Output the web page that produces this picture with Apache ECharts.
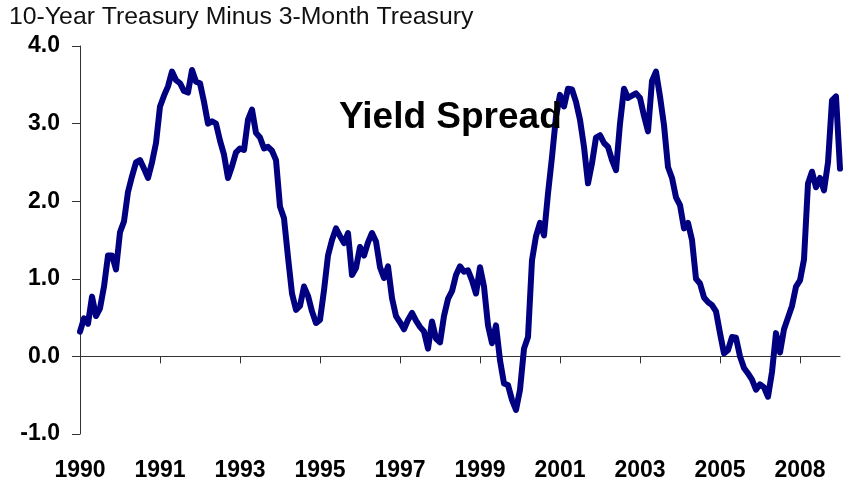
<!DOCTYPE html>
<html>
<head>
<meta charset="utf-8">
<script src="https://cdn.jsdelivr.net/npm/echarts@6/dist/echarts.min.js"></script>
<style>
  html, body { margin: 0; padding: 0; background: #ffffff; }
  #chart { width: 843px; height: 485px; }
</style>
</head>
<body>
<div id="chart"></div>
<script>
// Year labels shown under every 20th observation
const tickLabels = ['1990', '1991', '1993', '1995', '1997', '1999', '2001', '2003', '2005', '2008'];
const labelStep = 20;

// 10-year minus 3-month Treasury yield spread, percentage points
const spread = [
  0.32, 0.49, 0.42, 0.77, 0.52, 0.62, 0.90, 1.30, 1.30, 1.12,
  1.60, 1.74, 2.12, 2.32, 2.50, 2.53, 2.42, 2.30, 2.50, 2.75,
  3.22, 3.36, 3.48, 3.67, 3.56, 3.52, 3.42, 3.40, 3.69, 3.54,
  3.52, 3.28, 3.00, 3.03, 3.00, 2.78, 2.60, 2.30, 2.45, 2.63,
  2.68, 2.66, 3.05, 3.18, 2.88, 2.82, 2.68, 2.70, 2.65, 2.53,
  1.93, 1.78, 1.28, 0.81, 0.60, 0.65, 0.90, 0.78, 0.58, 0.43,
  0.47, 0.85, 1.30, 1.50, 1.65, 1.55, 1.46, 1.59, 1.05, 1.14,
  1.41, 1.30, 1.47, 1.59, 1.48, 1.15, 1.01, 1.16, 0.75, 0.52,
  0.44, 0.35, 0.47, 0.56, 0.46, 0.38, 0.32, 0.10, 0.45, 0.23,
  0.18, 0.52, 0.74, 0.84, 1.05, 1.16, 1.09, 1.11, 0.98, 0.81,
  1.15, 0.90, 0.40, 0.17, 0.40, -0.05, -0.35, -0.37, -0.56, -0.69,
  -0.43, 0.10, 0.25, 1.24, 1.55, 1.72, 1.56, 2.10, 2.57, 3.09,
  3.37, 3.22, 3.45, 3.44, 3.28, 3.05, 2.70, 2.23, 2.49, 2.82,
  2.85, 2.75, 2.70, 2.53, 2.40, 3.00, 3.45, 3.33, 3.36, 3.39,
  3.33, 3.10, 2.90, 3.55, 3.67, 3.35, 2.98, 2.44, 2.30, 2.05,
  1.95, 1.65, 1.72, 1.50, 1.00, 0.94, 0.76, 0.70, 0.66, 0.58,
  0.30, 0.04, 0.08, 0.25, 0.24, 0.00, -0.15, -0.22, -0.30, -0.43,
  -0.36, -0.40, -0.52, -0.20, 0.30, 0.05, 0.35, 0.50, 0.65, 0.90,
  0.98, 1.25, 2.23, 2.38, 2.18, 2.30, 2.14, 2.50, 3.30, 3.35,
  2.42
];

const periods = spread.map((_, i) => String(i));
const yearLabel = (value, index) => tickLabels[Math.round(index / labelStep)] || '';

const labelFont = {
  fontFamily: 'Liberation Sans, Arial, sans-serif',
  fontWeight: 'bold',
  fontSize: 23,
  color: '#000000'
};

const chart = echarts.init(document.getElementById('chart'), null, { renderer: 'canvas' });

chart.setOption({
  animation: false,
  backgroundColor: '#ffffff',
  title: [
    {
      text: '10-Year Treasury Minus 3-Month Treasury',
      left: 4,
      top: 0,
      textStyle: {
        fontFamily: 'Liberation Sans, Arial, sans-serif',
        fontWeight: 'normal',
        fontSize: 24.8,
        color: '#111111'
      }
    },
    {
      text: 'Yield Spread',
      left: 334,
      top: 94,
      textStyle: {
        fontFamily: 'Liberation Sans, Arial, sans-serif',
        fontWeight: 'bold',
        fontSize: 37,
        color: '#000000'
      }
    }
  ],
  grid: { left: 80, right: 3, top: 46, bottom: 51, containLabel: false },
  xAxis: [
    {
      type: 'category',
      data: periods,
      boundaryGap: false,
      axisLine: { show: true, onZero: true, lineStyle: { color: '#333333', width: 1 } },
      axisTick: { show: true, interval: labelStep - 1, length: 7, inside: false, lineStyle: { color: '#333333' } },
      axisLabel: { show: false },
      splitLine: { show: false }
    },
    {
      type: 'category',
      data: periods,
      boundaryGap: false,
      position: 'bottom',
      axisLine: { show: false, onZero: false },
      axisTick: { show: false },
      axisLabel: Object.assign({ show: true, interval: labelStep - 1, margin: 25, formatter: yearLabel }, labelFont),
      splitLine: { show: false }
    }
  ],
  yAxis: {
    type: 'value',
    min: -1,
    max: 4,
    interval: 1,
    axisLine: { show: true, lineStyle: { color: '#333333', width: 1 } },
    axisTick: { show: true, length: 8, inside: false, lineStyle: { color: '#333333' } },
    axisLabel: Object.assign({ margin: 20, formatter: v => v.toFixed(1) }, labelFont),
    splitLine: { show: false }
  },
  series: [
    {
      type: 'line',
      name: 'Yield Spread',
      xAxisIndex: 0,
      data: spread,
      showSymbol: false,
      symbol: 'none',
      smooth: false,
      lineStyle: { color: '#000080', width: 6, cap: 'round', join: 'round' }
    }
  ]
});
</script>
</body>
</html>
